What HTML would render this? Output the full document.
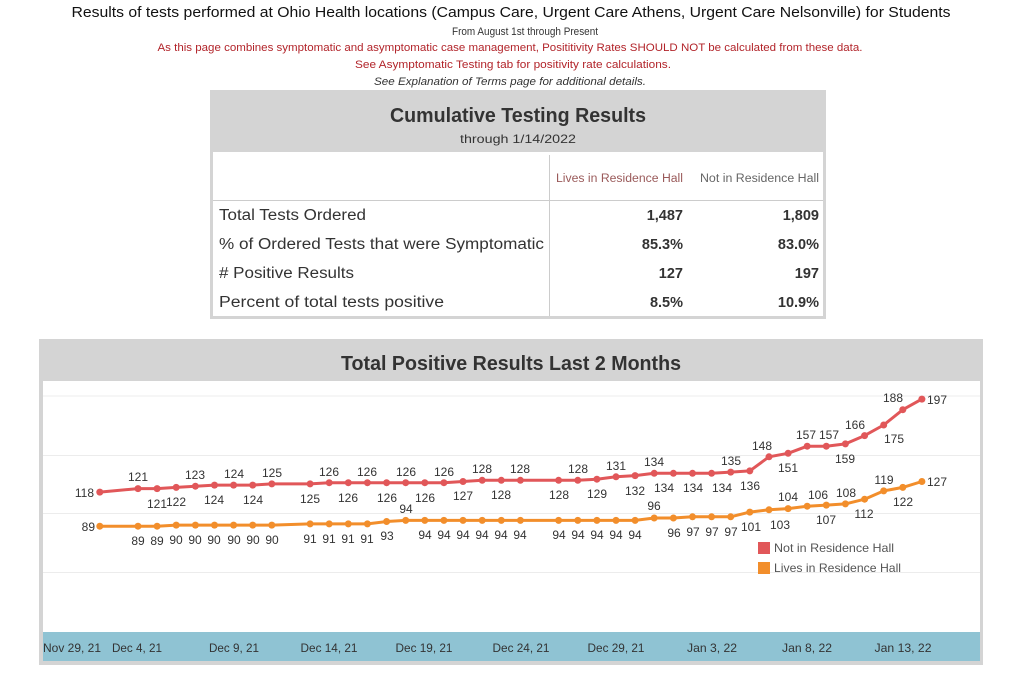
<!DOCTYPE html>
<html><head><meta charset="utf-8"><style>
html,body{margin:0;padding:0;background:#fff;}
svg{display:block;font-family:"Liberation Sans Narrow","Liberation Sans",sans-serif;}
</style></head><body>
<svg width="1015" height="688" viewBox="0 0 1015 688" xmlns="http://www.w3.org/2000/svg">
<rect width="1015" height="688" fill="#fff"/>
<text x="511" y="17" text-anchor="middle" font-size="15" fill="#111" textLength="879" lengthAdjust="spacingAndGlyphs">Results of tests performed at Ohio Health locations (Campus Care, Urgent Care Athens, Urgent Care Nelsonville) for Students</text>
<text x="525" y="35" text-anchor="middle" font-size="11" fill="#333" textLength="146" lengthAdjust="spacingAndGlyphs">From August 1st through Present</text>
<text x="510" y="51" text-anchor="middle" font-size="11" fill="#b2242a" textLength="705" lengthAdjust="spacingAndGlyphs">As this page combines symptomatic and asymptomatic case management, Posititivity Rates SHOULD NOT be calculated from these data.</text>
<text x="513" y="68" text-anchor="middle" font-size="11" fill="#b2242a" textLength="316" lengthAdjust="spacingAndGlyphs">See Asymptomatic Testing tab for positivity rate calculations.</text>
<text x="510" y="85" text-anchor="middle" font-size="11" fill="#333" font-style="italic" textLength="272" lengthAdjust="spacingAndGlyphs">See Explanation of Terms page for additional details.</text>

<rect x="210" y="90" width="616" height="229" fill="#d4d4d4"/>
<rect x="213" y="152" width="610" height="164" fill="#fff"/>
<text x="518" y="122" text-anchor="middle" font-size="20" font-weight="bold" fill="#333" textLength="256" lengthAdjust="spacingAndGlyphs">Cumulative Testing Results</text>
<text x="518" y="143" text-anchor="middle" font-size="12" fill="#333" textLength="116" lengthAdjust="spacingAndGlyphs">through 1/14/2022</text>
<line x1="549.5" y1="155" x2="549.5" y2="316" stroke="#ccc"/>
<line x1="213" y1="200.5" x2="823" y2="200.5" stroke="#ccc"/>
<text x="683" y="182" text-anchor="end" font-size="11.5" fill="#9a5a5a" textLength="127" lengthAdjust="spacingAndGlyphs">Lives in Residence Hall</text>
<text x="819" y="182" text-anchor="end" font-size="11.5" fill="#666" textLength="119" lengthAdjust="spacingAndGlyphs">Not in Residence Hall</text>
<g font-size="15.5" fill="#333">
<text x="219" y="220" textLength="147" lengthAdjust="spacingAndGlyphs">Total Tests Ordered</text>
<text x="219" y="249" textLength="325" lengthAdjust="spacingAndGlyphs">% of Ordered Tests that were Symptomatic</text>
<text x="219" y="278" textLength="135" lengthAdjust="spacingAndGlyphs"># Positive Results</text>
<text x="219" y="307" textLength="225" lengthAdjust="spacingAndGlyphs">Percent of total tests positive</text>
</g>
<g font-size="14.5" font-weight="bold" fill="#333" text-anchor="end">
<text x="683" y="220">1,487</text><text x="819" y="220">1,809</text>
<text x="683" y="249">85.3%</text><text x="819" y="249">83.0%</text>
<text x="683" y="278">127</text><text x="819" y="278">197</text>
<text x="683" y="307">8.5%</text><text x="819" y="307">10.9%</text>
</g>

<rect x="39" y="339" width="944" height="326" fill="#d4d4d4"/>
<rect x="43" y="381" width="937" height="251" fill="#fff"/>
<text x="511" y="370" text-anchor="middle" font-size="20" font-weight="bold" fill="#333" textLength="340" lengthAdjust="spacingAndGlyphs">Total Positive Results Last 2 Months</text>
<g stroke="#ececec" stroke-width="1">
<line x1="43" y1="396" x2="980" y2="396"/>
<line x1="43" y1="455.5" x2="980" y2="455.5"/>
<line x1="43" y1="513.5" x2="980" y2="513.5"/>
<line x1="43" y1="572.5" x2="980" y2="572.5"/>
</g>
<rect x="43" y="632" width="937" height="29" fill="#8fc3d3"/>
<g font-size="12" fill="#333" text-anchor="middle">
<text x="72" y="652" textLength="58" lengthAdjust="spacingAndGlyphs">Nov 29, 21</text>
<text x="137" y="652" textLength="50" lengthAdjust="spacingAndGlyphs">Dec 4, 21</text>
<text x="234" y="652" textLength="50" lengthAdjust="spacingAndGlyphs">Dec 9, 21</text>
<text x="329" y="652" textLength="57" lengthAdjust="spacingAndGlyphs">Dec 14, 21</text>
<text x="424" y="652" textLength="57" lengthAdjust="spacingAndGlyphs">Dec 19, 21</text>
<text x="521" y="652" textLength="57" lengthAdjust="spacingAndGlyphs">Dec 24, 21</text>
<text x="616" y="652" textLength="57" lengthAdjust="spacingAndGlyphs">Dec 29, 21</text>
<text x="712" y="652" textLength="50" lengthAdjust="spacingAndGlyphs">Jan 3, 22</text>
<text x="807" y="652" textLength="50" lengthAdjust="spacingAndGlyphs">Jan 8, 22</text>
<text x="903" y="652" textLength="57" lengthAdjust="spacingAndGlyphs">Jan 13, 22</text>
</g>

<polyline fill="none" stroke="#e15759" stroke-width="3" stroke-linejoin="round" points="99.8,492.1 138,488.6 157.1,488.6 176.2,487.4 195.4,486.2 214.5,485.1 233.6,485.1 252.7,485.1 271.8,483.9 310.1,483.9 329.2,482.7 348.3,482.7 367.4,482.7 386.6,482.7 405.7,482.7 424.8,482.7 443.9,482.7 463,481.5 482.2,480.3 501.3,480.3 520.4,480.3 558.6,480.3 577.8,480.3 596.9,479.2 616,476.8 635.1,475.6 654.2,473.3 673.4,473.3 692.5,473.3 711.6,473.3 730.7,472.1 749.8,470.9 769,456.8 788.1,453.3 807.2,446.2 826.3,446.2 845.4,443.9 864.6,435.6 883.7,425 902.8,409.7 921.9,399.1"/>
<g fill="#e15759">
<circle cx="99.8" cy="492.1" r="3.5"/><circle cx="138" cy="488.6" r="3.5"/><circle cx="157.1" cy="488.6" r="3.5"/><circle cx="176.2" cy="487.4" r="3.5"/><circle cx="195.4" cy="486.2" r="3.5"/><circle cx="214.5" cy="485.1" r="3.5"/><circle cx="233.6" cy="485.1" r="3.5"/><circle cx="252.7" cy="485.1" r="3.5"/><circle cx="271.8" cy="483.9" r="3.5"/><circle cx="310.1" cy="483.9" r="3.5"/><circle cx="329.2" cy="482.7" r="3.5"/><circle cx="348.3" cy="482.7" r="3.5"/><circle cx="367.4" cy="482.7" r="3.5"/><circle cx="386.6" cy="482.7" r="3.5"/><circle cx="405.7" cy="482.7" r="3.5"/><circle cx="424.8" cy="482.7" r="3.5"/><circle cx="443.9" cy="482.7" r="3.5"/><circle cx="463" cy="481.5" r="3.5"/><circle cx="482.2" cy="480.3" r="3.5"/><circle cx="501.3" cy="480.3" r="3.5"/><circle cx="520.4" cy="480.3" r="3.5"/><circle cx="558.6" cy="480.3" r="3.5"/><circle cx="577.8" cy="480.3" r="3.5"/><circle cx="596.9" cy="479.2" r="3.5"/><circle cx="616" cy="476.8" r="3.5"/><circle cx="635.1" cy="475.6" r="3.5"/><circle cx="654.2" cy="473.3" r="3.5"/><circle cx="673.4" cy="473.3" r="3.5"/><circle cx="692.5" cy="473.3" r="3.5"/><circle cx="711.6" cy="473.3" r="3.5"/><circle cx="730.7" cy="472.1" r="3.5"/><circle cx="749.8" cy="470.9" r="3.5"/><circle cx="769" cy="456.8" r="3.5"/><circle cx="788.1" cy="453.3" r="3.5"/><circle cx="807.2" cy="446.2" r="3.5"/><circle cx="826.3" cy="446.2" r="3.5"/><circle cx="845.4" cy="443.9" r="3.5"/><circle cx="864.6" cy="435.6" r="3.5"/><circle cx="883.7" cy="425" r="3.5"/><circle cx="902.8" cy="409.7" r="3.5"/><circle cx="921.9" cy="399.1" r="3.5"/>
</g>

<polyline fill="none" stroke="#f28e2b" stroke-width="3" stroke-linejoin="round" points="99.8,526.2 138,526.2 157.1,526.2 176.2,525.1 195.4,525.1 214.5,525.1 233.6,525.1 252.7,525.1 271.8,525.1 310.1,523.9 329.2,523.9 348.3,523.9 367.4,523.9 386.6,521.5 405.7,520.4 424.8,520.4 443.9,520.4 463,520.4 482.2,520.4 501.3,520.4 520.4,520.4 558.6,520.4 577.8,520.4 596.9,520.4 616,520.4 635.1,520.4 654.2,518 673.4,518 692.5,516.8 711.6,516.8 730.7,516.8 749.8,512.1 769,509.8 788.1,508.6 807.2,506.2 826.3,505.1 845.4,503.9 864.6,499.2 883.7,490.9 902.8,487.4 921.9,481.5"/>
<g fill="#f28e2b">
<circle cx="99.8" cy="526.2" r="3.5"/><circle cx="138" cy="526.2" r="3.5"/><circle cx="157.1" cy="526.2" r="3.5"/><circle cx="176.2" cy="525.1" r="3.5"/><circle cx="195.4" cy="525.1" r="3.5"/><circle cx="214.5" cy="525.1" r="3.5"/><circle cx="233.6" cy="525.1" r="3.5"/><circle cx="252.7" cy="525.1" r="3.5"/><circle cx="271.8" cy="525.1" r="3.5"/><circle cx="310.1" cy="523.9" r="3.5"/><circle cx="329.2" cy="523.9" r="3.5"/><circle cx="348.3" cy="523.9" r="3.5"/><circle cx="367.4" cy="523.9" r="3.5"/><circle cx="386.6" cy="521.5" r="3.5"/><circle cx="405.7" cy="520.4" r="3.5"/><circle cx="424.8" cy="520.4" r="3.5"/><circle cx="443.9" cy="520.4" r="3.5"/><circle cx="463" cy="520.4" r="3.5"/><circle cx="482.2" cy="520.4" r="3.5"/><circle cx="501.3" cy="520.4" r="3.5"/><circle cx="520.4" cy="520.4" r="3.5"/><circle cx="558.6" cy="520.4" r="3.5"/><circle cx="577.8" cy="520.4" r="3.5"/><circle cx="596.9" cy="520.4" r="3.5"/><circle cx="616" cy="520.4" r="3.5"/><circle cx="635.1" cy="520.4" r="3.5"/><circle cx="654.2" cy="518" r="3.5"/><circle cx="673.4" cy="518" r="3.5"/><circle cx="692.5" cy="516.8" r="3.5"/><circle cx="711.6" cy="516.8" r="3.5"/><circle cx="730.7" cy="516.8" r="3.5"/><circle cx="749.8" cy="512.1" r="3.5"/><circle cx="769" cy="509.8" r="3.5"/><circle cx="788.1" cy="508.6" r="3.5"/><circle cx="807.2" cy="506.2" r="3.5"/><circle cx="826.3" cy="505.1" r="3.5"/><circle cx="845.4" cy="503.9" r="3.5"/><circle cx="864.6" cy="499.2" r="3.5"/><circle cx="883.7" cy="490.9" r="3.5"/><circle cx="902.8" cy="487.4" r="3.5"/><circle cx="921.9" cy="481.5" r="3.5"/>
</g>

<g font-family="Liberation Sans, sans-serif" font-size="12" fill="#333" text-anchor="middle">
<text x="94" y="497" text-anchor="end">118</text>
<text x="138" y="481">121</text><text x="157" y="508">121</text><text x="176" y="506">122</text>
<text x="195" y="479">123</text><text x="214" y="504">124</text><text x="234" y="478">124</text>
<text x="253" y="504">124</text><text x="272" y="477">125</text><text x="310" y="503">125</text>
<text x="329" y="476">126</text><text x="348" y="502">126</text><text x="367" y="476">126</text>
<text x="387" y="502">126</text><text x="406" y="476">126</text><text x="425" y="502">126</text>
<text x="444" y="476">126</text><text x="463" y="500">127</text><text x="482" y="473">128</text>
<text x="501" y="499">128</text><text x="520" y="473">128</text><text x="559" y="499">128</text>
<text x="578" y="473">128</text><text x="597" y="498">129</text><text x="616" y="470">131</text>
<text x="635" y="495">132</text><text x="654" y="466">134</text><text x="664" y="492">134</text>
<text x="693" y="492">134</text><text x="722" y="492">134</text><text x="731" y="465">135</text>
<text x="750" y="490">136</text><text x="762" y="450">148</text><text x="788" y="472">151</text>
<text x="806" y="439">157</text><text x="829" y="439">157</text><text x="845" y="463">159</text>
<text x="855" y="429">166</text><text x="894" y="443">175</text><text x="893" y="402">188</text>
<text x="927" y="404" text-anchor="start">197</text>
</g>
<g font-family="Liberation Sans, sans-serif" font-size="12" fill="#333" text-anchor="middle">
<text x="95" y="531" text-anchor="end">89</text>
<text x="138" y="545">89</text><text x="157" y="545">89</text>
<text x="176" y="544">90</text><text x="195" y="544">90</text><text x="214" y="544">90</text><text x="234" y="544">90</text><text x="253" y="544">90</text><text x="272" y="544">90</text>
<text x="310" y="543">91</text><text x="329" y="543">91</text><text x="348" y="543">91</text><text x="367" y="543">91</text>
<text x="387" y="540">93</text><text x="406" y="513">94</text>
<text x="425" y="539">94</text><text x="444" y="539">94</text><text x="463" y="539">94</text><text x="482" y="539">94</text><text x="501" y="539">94</text><text x="520" y="539">94</text>
<text x="559" y="539">94</text><text x="578" y="539">94</text><text x="597" y="539">94</text><text x="616" y="539">94</text><text x="635" y="539">94</text>
<text x="654" y="510">96</text><text x="674" y="537">96</text>
<text x="693" y="536">97</text><text x="712" y="536">97</text><text x="731" y="536">97</text>
<text x="751" y="531">101</text><text x="780" y="529">103</text>
<text x="788" y="501">104</text><text x="818" y="499">106</text><text x="826" y="524">107</text>
<text x="846" y="497">108</text><text x="864" y="518">112</text><text x="884" y="484">119</text>
<text x="903" y="506">122</text><text x="927" y="486" text-anchor="start">127</text>
</g>

<rect x="758" y="542" width="12" height="12" fill="#e15759"/>
<text x="774" y="552" font-size="12" fill="#555" textLength="120" lengthAdjust="spacingAndGlyphs">Not in Residence Hall</text>
<rect x="758" y="562" width="12" height="12" fill="#f28e2b"/>
<text x="774" y="572" font-size="12" fill="#555" textLength="127" lengthAdjust="spacingAndGlyphs">Lives in Residence Hall</text>
</svg>
</body></html>
